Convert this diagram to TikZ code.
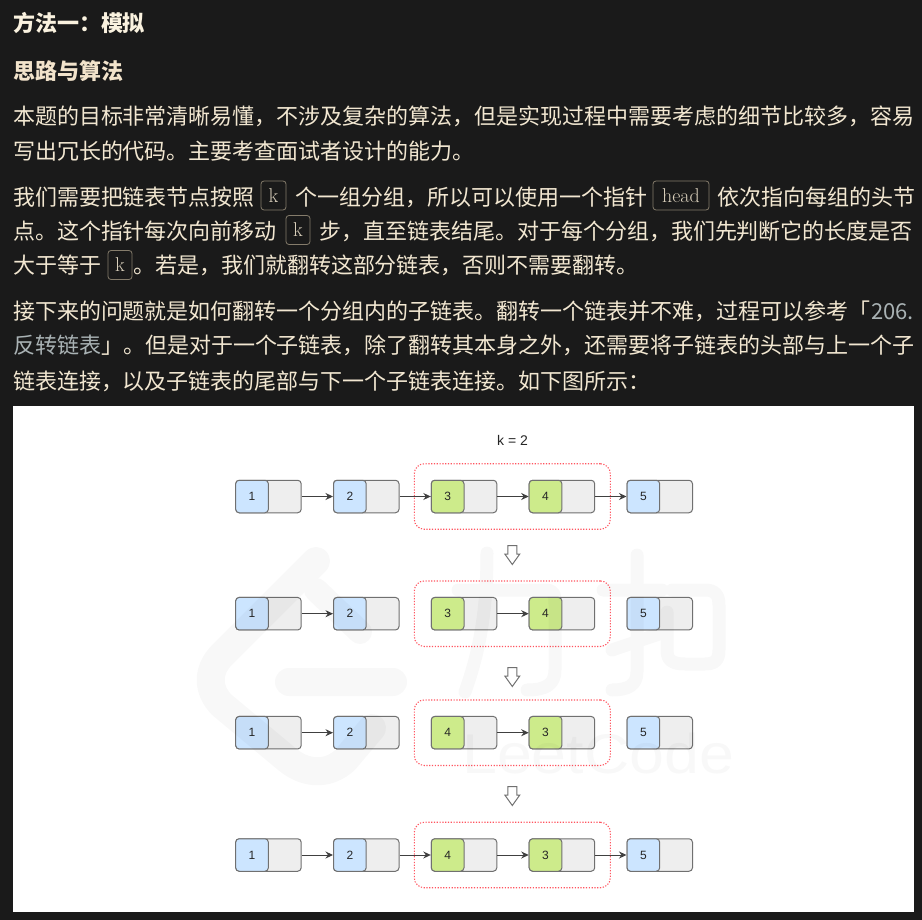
\documentclass[tikz,border=0pt]{standalone}
\usepackage{fontspec}
\newfontfamily\cjk{Noto Sans CJK SC}
\newfontfamily\dsans{Liberation Sans}
\usetikzlibrary{arrows.meta}
\definecolor{bgdark}{HTML}{1A1A1A}
\definecolor{bodytxt}{HTML}{F2E7D1}
\definecolor{headtxt}{HTML}{FAF2DF}
\definecolor{subtxt}{HTML}{F2E3CB}
\definecolor{linktxt}{HTML}{A9B2B4}
\definecolor{codeln}{HTML}{857C6B}
\definecolor{nodeln}{HTML}{707070}
\definecolor{nodegray}{HTML}{EEEEEE}
\definecolor{nodeblue}{HTML}{CCE5FF}
\definecolor{nodegreen}{HTML}{CDEB8B}
\definecolor{groupred}{HTML}{FF5560}
\tikzset{
  x=1pt,y=-1pt,
  txt/.style={anchor=base west,inner sep=0pt,outer sep=0pt,text=bodytxt,font=\cjk\fontsize{22}{26}\selectfont},
  link/.style={txt,text=linktxt},
  h1/.style={txt,text=headtxt,font=\cjk\bfseries\fontsize{22}{26}\selectfont},
  h2/.style={txt,text=subtxt,font=\cjk\bfseries\fontsize{22}{26}\selectfont},
  codebox/.style={draw=codeln,line width=.8pt,rounded corners=3pt,text=bodytxt!90!black,inner sep=0pt,minimum height=29pt,font=\fontsize{20}{24}\selectfont},
  lnode/.style={draw=nodeln,fill=nodegray,line width=1pt,rounded corners=3.5pt,minimum width=65.5pt,minimum height=32.5pt,inner sep=0pt},
  valb/.style={draw=nodeln,fill=nodeblue,line width=1pt,rounded corners=3.5pt,minimum width=32.7pt,minimum height=32.5pt,inner sep=0pt,text=black!85,font=\dsans\fontsize{12}{14}\selectfont},
  valg/.style={valb,fill=nodegreen},
  link arrow/.style={draw=black!75,line width=1pt,-{Stealth[length=7.5pt,width=7pt]}},
  group/.style={draw=groupred,line width=1.1pt,dash pattern=on 1.2pt off 1.6pt,rounded corners=10pt,minimum width=196pt,minimum height=65.5pt,inner sep=0pt},
  stepdown/.style={draw=nodeln,fill=white,line width=1pt,line join=miter},
  wm/.style={draw=black,line width=28pt,line cap=round,line join=round},
}
\newcommand{\lnk}[5]{% name, x-left, y-centre, label, style
  \node[lnode,anchor=west] (#1) at (#2,#3) {};
  \node[#5,anchor=west] (#1v) at (#2,#3) {#4};
}
\newcommand{\stepdownarrow}[2]{% x centre, y top
  \draw[stepdown] (#1-4.5,#2) -- (#1+4.5,#2) -- (#1+4.5,#2+8.5) -- (#1+7.5,#2+8.5) -- (#1,#2+19) -- (#1-7.5,#2+8.5) -- (#1-4.5,#2+8.5) -- cycle;
}
\begin{document}
\begin{tikzpicture}
\useasboundingbox (0,0) rectangle (922,920);
\fill[bgdark] (0,0) rectangle (922,920);
% text
\node[h1] (t1) at (13,32) {方法一：模拟};
\node[h2] (t2) at (13,80) {思路与算法};
\node[txt] (p1a) at (13,125) {本题的目标非常清晰易懂，不涉及复杂的算法，但是实现过程中需要考虑的细节比较多，容易};
\node[txt] (p1b) at (13,160) {写出冗长的代码。主要考查面试者设计的能力。};
\node[txt] (p2a) at (13,206) {我们需要把链表节点按照};
\node[codebox,minimum width=25pt] (c1) at (273.5,195.5) {k};
\node[txt] (p2b) at (295,206) {个一组分组，所以可以使用一个指针};
\node[codebox,minimum width=56pt] (c2) at (681,195.5) {head};
\node[txt] (p2c) at (717,206) {依次指向每组的头节};
\node[txt] (p2d) at (13,240) {点。这个指针每次向前移动};
\node[codebox,minimum width=24pt] (c3) at (298,230) {k};
\node[txt] (p2e) at (319,240) {步，直至链表结尾。对于每个分组，我们先判断它的长度是否};
\node[txt] (p2f) at (13,274) {大于等于};
\node[codebox,minimum width=24pt] (c4) at (120,265) {k};
\node[txt] (p2g) at (133,274) {。若是，我们就翻转这部分链表，否则不需要翻转。};
\node[txt] (p3a) at (13,320) {接下来的问题就是如何翻转一个分组内的子链表。翻转一个链表并不难，过程可以参考「};
\node[link] (p3b) at (871,320) {206.};
\node[link] (p3c) at (13,354) {反转链表};
\node[txt] (p3d) at (101,354) {」。但是对于一个子链表，除了翻转其本身之外，还需要将子链表的头部与上一个子};
\node[txt] (p3e) at (13,389) {链表连接，以及子链表的尾部与下一个子链表连接。如下图所示：};
% figure panel
\fill[white] (13,406) rectangle (914,912);
\node[font=\dsans\fontsize{14}{16}\selectfont,text=black!85,inner sep=0pt] (ktitle) at (512.5,440) {k = 2};
% row 1
\foreach \r/\y in {1/496.5,2/613.7,3/732.7,4/855}{
  \node[group] (g\r) at (512.3,\y) {};
}
\lnk{a1}{235.2}{496.5}{1}{valb}
\lnk{a2}{333}{496.5}{2}{valb}
\lnk{a3}{430.8}{496.5}{3}{valg}
\lnk{a4}{528.7}{496.5}{4}{valg}
\lnk{a5}{626.5}{496.5}{5}{valb}
\draw[link arrow] (a1.east) -- (a2v.west);
\draw[link arrow] (a2.east) -- (a3v.west);
\draw[link arrow] (a3.east) -- (a4v.west);
\draw[link arrow] (a4.east) -- (a5v.west);
% row 2
\lnk{b1}{235.2}{613.7}{1}{valb}
\lnk{b2}{333}{613.7}{2}{valb}
\lnk{b3}{430.8}{613.7}{3}{valg}
\lnk{b4}{528.7}{613.7}{4}{valg}
\lnk{b5}{626.5}{613.7}{5}{valb}
\draw[link arrow] (b1.east) -- (b2v.west);
\draw[link arrow] (b3.east) -- (b4v.west);
% row 3
\lnk{c1n}{235.2}{732.7}{1}{valb}
\lnk{c2n}{333}{732.7}{2}{valb}
\lnk{c3n}{430.8}{732.7}{4}{valg}
\lnk{c4n}{528.7}{732.7}{3}{valg}
\lnk{c5n}{626.5}{732.7}{5}{valb}
\draw[link arrow] (c1n.east) -- (c2nv.west);
\draw[link arrow] (c3n.east) -- (c4nv.west);
% row 4
\lnk{d1}{235.2}{855}{1}{valb}
\lnk{d2}{333}{855}{2}{valb}
\lnk{d3}{430.8}{855}{4}{valg}
\lnk{d4}{528.7}{855}{3}{valg}
\lnk{d5}{626.5}{855}{5}{valb}
\draw[link arrow] (d1.east) -- (d2v.west);
\draw[link arrow] (d2.east) -- (d3v.west);
\draw[link arrow] (d3.east) -- (d4v.west);
\draw[link arrow] (d4.east) -- (d5v.west);
% down arrows
\stepdownarrow{512.3}{545.5}
\stepdownarrow{512.3}{667.5}
\stepdownarrow{512.3}{786.5}
% watermark
\begin{scope}[transparency group,opacity=.028]
  % logo
  \draw[wm] (316,561) -- (222,655) .. controls (207,670) and (207,690) .. (222,705) -- (288,760) .. controls (308,776) and (330,774) .. (345,760) -- (372,728);
  \draw[wm,line width=24pt] (316,590) -- (360,632);
  \draw[wm] (289,682) -- (393,682);
  % li
  \draw[wm,line width=13pt] (487,553) .. controls (487,610) and (480,650) .. (465,692);
  \draw[wm,line width=13pt] (458,590) -- (545,590) .. controls (555,590) and (555,595) .. (555,605) -- (555,670) .. controls (555,685) and (545,690) .. (527,690);
  % kou
  \draw[wm,line width=13pt] (637,555) -- (637,672) .. controls (637,685) and (628,690) .. (612,690);
  \draw[wm,line width=13pt] (603,590) -- (662,590);
  \draw[wm,line width=13pt] (612,650) -- (662,633);
  \draw[wm,line width=13pt] (672,590) -- (705,590) .. controls (715,590) and (719,595) .. (719,605) -- (719,650) .. controls (719,660) and (715,664) .. (705,664) -- (685,664) .. controls (672,664) and (667,660) .. (667,650) -- (667,612);
  % latin
  \node[inner sep=0pt,text=black,font=\dsans\fontsize{56}{60}\selectfont,anchor=base west,xscale=1.12] (wmtext) at (462,773) {LeetCode};
\end{scope}
\end{tikzpicture}
\end{document}
